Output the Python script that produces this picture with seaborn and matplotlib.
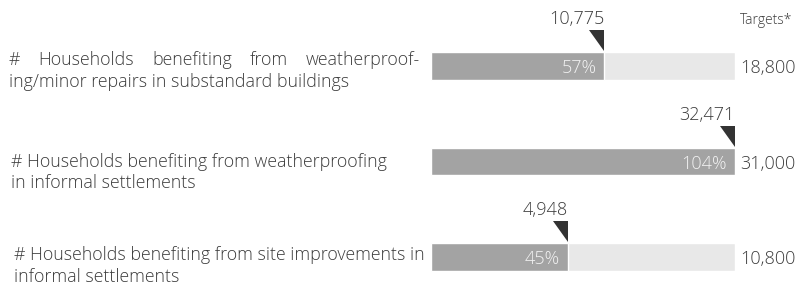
import matplotlib
matplotlib.use("Agg")
import numpy as np
import pandas as pd
import matplotlib.pyplot as plt
import seaborn as sns

rows = ["weatherproofing_substandard", "weatherproofing_informal", "site_improvements"]
label_lines = [
    ["# Households benefiting from weatherproof-", "ing/minor repairs in substandard buildings"],
    ["# Households benefiting from weatherproofing", "in informal settlements"],
    ["# Households benefiting from site improvements in", "informal settlements"],
]
actuals = [10775, 32471, 4948]
targets = [18800, 31000, 10800]
pct = [57, 104, 45]

sns.set_theme(style="white")
plt.rcParams["font.family"] = ["Open Sans", "DejaVu Sans"]

W, H = 798, 288
fig = plt.figure(figsize=(W / 100, H / 100), dpi=100)
ax = fig.add_axes([431 / W, 0, 304 / W, 1])

df = pd.DataFrame({"row": rows, "full": 100, "fill": np.minimum(pct, 100)})
sns.barplot(data=df, x="full", y="row", orient="h", color="#e8e8e8",
            width=0.293, saturation=1, ax=ax)
sns.barplot(data=df, x="fill", y="row", orient="h", color="#a3a3a3",
            width=0.293, saturation=1, ax=ax)

unit = 95.5  # px per category step
ax.set_xlim(0, 100)
ax.set_ylim(2 + 31 / unit, -66 / unit)
ax.axis("off")

txt = "#3c3c3c"
for i, (a, t, p) in enumerate(zip(actuals, targets, pct)):
    end = min(p, 100)
    top = i - 36 / unit
    tip = i - 15 / unit
    ax.fill([end - 15 / 3.04, end, end], [top, top, tip], color="#333333", lw=0)
    ax.text(end, i - 42 / unit, f"{a:,}", ha="right", va="baseline",
            fontsize=13, color=txt, fontweight="light")
    ax.text(end - 2.6, i + 2 / unit, f"{p}%", ha="right", va="center",
            fontsize=13, color="#f2f2f2", fontweight="light")
    ax.text(101.8, i + 2 / unit, f"{t:,}", ha="left", va="center",
            fontsize=13, color=txt, fontweight="light")

fig.text(740 / W, 1 - 20 / H, "Targets*", ha="left", va="center",
         fontsize=10, color=txt, fontweight="light")

# label positions (px): left x, baselines of the two lines
label_x = [9, 11, 14]
baselines = [(65, 87), (167, 188), (260, 282)]
fs = 12.8
for i, lines in enumerate(label_lines):
    x0 = label_x[i]
    b1, b2 = baselines[i]
    if i == 0:
        # justified first line
        words = lines[0].split(" ")
        objs = [fig.text(0, 1 - b1 / H, w, ha="left", va="baseline",
                         fontsize=fs, color=txt, fontweight="light") for w in words]
        fig.canvas.draw()
        r = fig.canvas.get_renderer()
        widths = [o.get_window_extent(r).width for o in objs]
        gap = (420 - x0 - sum(widths)) / (len(words) - 1)
        x = x0
        for o, w in zip(objs, widths):
            o.set_x(x / W)
            x += w + gap
    else:
        fig.text(x0 / W, 1 - b1 / H, lines[0], ha="left", va="baseline",
                 fontsize=fs, color=txt, fontweight="light")
    fig.text(x0 / W, 1 - b2 / H, lines[1], ha="left", va="baseline",
             fontsize=fs, color=txt, fontweight="light")

fig.savefig("out.png", dpi=100)
